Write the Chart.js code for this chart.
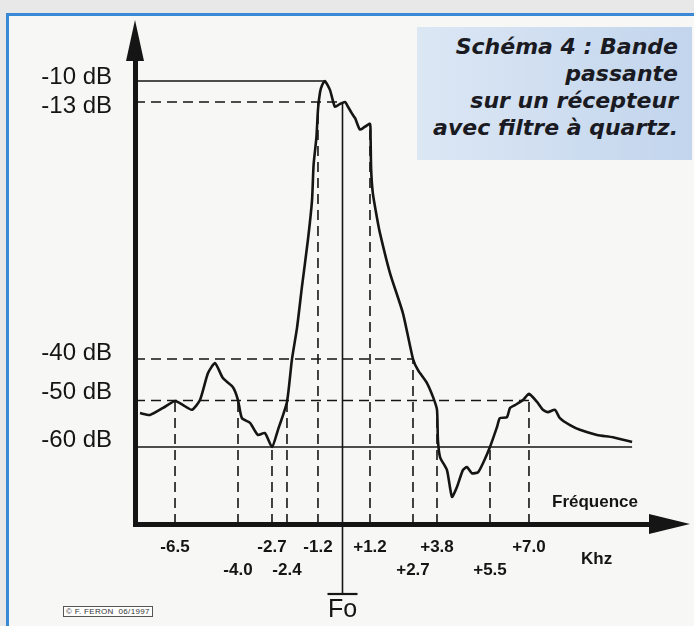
<!DOCTYPE html>
<html>
<head>
<meta charset="utf-8">
<script src="https://cdn.jsdelivr.net/npm/chart.js@4/dist/chart.umd.min.js"></script>
<style>
  body { margin: 0; width: 694px; height: 626px; background: #e8e8e8; position: relative; overflow: hidden; font-family: 'Liberation Sans', Arial, sans-serif; }
  #frame { position: absolute; left: 6px; top: 13px; right: 0; bottom: 0; border-top: 3px solid #3a89d6; border-left: 3px solid #3a89d6; background: #f7f7f5; }
  #filterChart { position: absolute; left: 0; top: 0; }
  .caption { position: absolute; left: 417px; top: 27px; width: 261px; height: 127px; padding: 6px 14px 0 0; box-sizing: content-box;
    background: linear-gradient(to right, #dce7f4, #c2d5ed); text-align: right; color: #1a1a22;
    font: italic bold 22px/27px 'DejaVu Sans', sans-serif; }
  .note { position: absolute; color: #151515; font-weight: bold; font-size: 17px; line-height: 20px; white-space: nowrap; }
  .fo { position: absolute; left: 328px; top: 596px; font-size: 25px; line-height: 25px; color: #151515; }
  .copy { position: absolute; left: 63px; top: 606px; border: 1px solid #555; font-size: 8px; line-height: 9px; padding: 0 2px; letter-spacing: 0.3px; color: #333; background: #fff; white-space: nowrap; }
</style>
</head>
<body>
<div id="frame"></div>
<canvas id="filterChart" width="694" height="626"></canvas>
<div class="caption">Schéma 4 : Bande<br>passante<br>sur un récepteur<br>avec filtre à quartz.</div>
<div class="note" style="left:552px; top:492px;">Fréquence</div>
<div class="note" style="left:581px; top:549px;">Khz</div>
<div class="fo">Fo</div>
<div class="copy">© F. FERON&nbsp;&nbsp;06/1997</div>
<script>
// response of the quartz filter (kHz from Fo, level in dB)
const curveKhz = [-7.9, -7.5, -6.98, -6.5, -6.18, -5.83, -5.51, -5.19, -4.91, -4.6, -4.2, -4.0, -3.85, -3.54, -3.24, -2.97,
  -2.7, -2.58, -2.4, -2.21, -2.01, -1.82, -1.59, -1.43, -1.37, -1.26, -1.2, -1.1, -1.0, -0.86, -0.61, -0.37, -0.12,
  0.11, 0.24, 0.41, 0.55, 0.76, 0.98, 1.2, 1.22, 1.24, 1.3, 1.44, 1.55, 1.9, 2.35, 2.7, 2.93, 3.34, 3.62, 3.8, 3.83,
  3.9, 4.12, 4.28, 4.44, 4.63, 4.76, 4.92, 5.12, 5.28, 5.5, 5.77, 5.88, 6.15, 6.27, 6.46, 6.77, 7.0, 7.31, 7.54, 7.73,
  8.0, 8.19, 8.58, 8.96, 9.62, 10.23, 10.97]
const curveDb = [-52.7, -53.1, -51.6, -50.1, -51.0, -52.0, -49.9, -43.4, -41.0, -44.6, -46.8, -49.9, -53.8, -54.8, -57.4, -57.0,
  -60.0, -56.3, -50.3, -40.2, -36.7, -32.4, -27.5, -23.3, -19.6, -16.7, -13.8, -11.6, -10.6, -10.0, -11.3, -13.5, -13.2,
  -13.0, -13.5, -14.2, -14.7, -15.9, -15.6, -15.3, -16.7, -20.1, -22.6, -25.1, -26.8, -31.0, -35.2, -40.0, -42.7, -45.8, -49.2, -52.0, -58.5,
  -62.0, -64.5, -69.7, -67.8, -64.5, -63.9, -65.1, -64.9, -63.1, -60.0, -55.7, -53.8, -53.6, -51.6, -51.0, -49.9, -48.4, -50.3, -52.0, -52.5,
  -52.0, -53.8, -55.3, -56.3, -57.4, -57.9, -58.9]

// level marks on the dB axis and how far each guide runs to the right
const yTicks = [-10, -13, -40, -50, -60]
const yTickLabels = ['-10 dB', '-13 dB', '-40 dB', '-50 dB', '-60 dB']
const levelEndKhz = [-0.86, 0, 2.7, 7.0, 10.97]
const levelDashed = [false, true, true, true, false]

// frequency marks, their text, label row, and the level where each dashed drop starts
const xTicks = [-6.5, -4.0, -2.7, -2.4, -1.2, 1.2, 2.7, 3.8, 5.5, 7.0]
const xTickLabels = ['-6.5', '-4.0', '-2.7', '-2.4', '-1.2', '+1.2', '+2.7', '+3.8', '+5.5', '+7.0']
const xTickRow = [1, 2, 1, 2, 1, 1, 2, 1, 2, 1]
const markTopDb = [-50.1, -49.9, -60.0, -50.3, -13.0, -15.3, -40.0, -52.0, -60.0, -48.4]

const xMin = -8.1, xMax = 11.66, yMin = -75, yMax = -7

// the drawing is not to scale: each axis is stretched piecewise between its marks
const axisWarp = {
  x: [[-8.1, 0], [-6.5, 0.0777], [-4.0, 0.2], [-2.7, 0.266], [-2.4, 0.2951], [-1.2, 0.3553], [0, 0.4029],
      [1.2, 0.4563], [2.7, 0.5398], [3.8, 0.5864], [5.5, 0.6893], [7.0, 0.765], [11.66, 1]],
  y: [[-75, 0], [-60, 0.1659], [-50, 0.2662], [-40, 0.3556], [-13, 0.9095], [-10, 0.9547], [-7, 1]]
}
const labelNudge = { y: { '-10': -4, '-13': 4, '-40': -6, '-50': -8, '-60': -7 } }

const ink = '#151515'

function piecewise (pairs, v, from, to) {
  let i = 1
  while (i < pairs.length - 1 && v > pairs[i][from]) i++
  const a = pairs[i - 1], b = pairs[i]
  return a[to] + (v - a[from]) * (b[to] - a[to]) / (b[from] - a[from])
}

class WarpScale extends Chart.LinearScale {
  static id = 'warp'
  getPixelForValue (v) {
    if (v === null || v === undefined) return NaN
    return this.getPixelForDecimal(piecewise(axisWarp[this.id], v, 0, 1))
  }
  getValueForPixel (p) {
    return piecewise(axisWarp[this.id], this.getDecimalForPixel(p), 1, 0)
  }
  getPixelForTick (i) {
    const t = this.ticks[i]
    const nudge = (labelNudge[this.id] || {})[t.value] || 0
    return this.getPixelForValue(t.value) + nudge
  }
}
Chart.register(WarpScale)

const datasets = []
datasets.push({
  data: curveKhz.map((x, i) => ({ x: x, y: curveDb[i] })),
  borderColor: ink, borderWidth: 2.6, tension: 0.2, pointRadius: 0, order: 0
})
yTicks.forEach((lvl, i) => {
  datasets.push({
    data: [{ x: xMin, y: lvl }, { x: levelEndKhz[i], y: lvl }],
    borderColor: ink, borderWidth: 1.6, borderDash: levelDashed[i] ? [10, 6] : [],
    pointRadius: 0, order: 1
  })
})
xTicks.forEach((f, i) => {
  datasets.push({
    data: [{ x: f, y: yMin }, { x: f, y: markTopDb[i] }],
    borderColor: ink, borderWidth: 1.6, borderDash: [10, 6], pointRadius: 0, order: 1
  })
})
// Fo centre line
datasets.push({
  data: [{ x: 0, y: -13 }, { x: 0, y: yMin }],
  borderColor: ink, borderWidth: 1.6, pointRadius: 0, order: 1
})

const arrows = {
  id: 'arrows',
  afterDraw (chart) {
    const { ctx, chartArea: a } = chart
    const fx = chart.scales.x.getPixelForValue(0)
    ctx.save()
    ctx.fillStyle = ink
    ctx.beginPath()
    ctx.moveTo(a.left, a.top - 40); ctx.lineTo(a.left - 9, a.top + 1); ctx.lineTo(a.left + 9, a.top + 1)
    ctx.fill()
    ctx.beginPath()
    ctx.moveTo(a.right + 40, a.bottom); ctx.lineTo(a.right - 1, a.bottom - 10); ctx.lineTo(a.right - 1, a.bottom + 10)
    ctx.fill()
    // Fo stem continues under the axis down to the label
    ctx.strokeStyle = ink
    ctx.lineWidth = 1.6
    ctx.beginPath(); ctx.moveTo(fx, a.bottom); ctx.lineTo(fx, a.bottom + 70); ctx.stroke()
    ctx.lineWidth = 2.2
    ctx.beginPath(); ctx.moveTo(fx - 15, a.bottom + 70); ctx.lineTo(fx + 15, a.bottom + 70); ctx.stroke()
    ctx.restore()
  }
}

Chart.defaults.font.family = "'Liberation Sans', Arial, sans-serif"
Chart.defaults.color = ink

new Chart(document.getElementById('filterChart'), {
  type: 'line',
  data: { datasets: datasets },
  plugins: [arrows],
  options: {
    responsive: false,
    animation: false,
    events: [],
    layout: { padding: { top: 60, right: 44, bottom: 0, left: 0 } },
    plugins: { legend: { display: false }, tooltip: { enabled: false }, title: { display: false } },
    scales: {
      x: {
        type: 'warp', min: xMin, max: xMax,
        afterFit: (s) => { s.height = 102 },
        afterBuildTicks: (s) => { s.ticks = xTicks.map(v => ({ value: v })) },
        grid: { display: true, drawOnChartArea: false, drawTicks: false, color: 'transparent' },
        border: { display: true, width: 5, color: ink },
        ticks: {
          autoSkip: false, maxRotation: 0, minRotation: 0, padding: 12,
          font: { size: 17, weight: 'bold', lineHeight: '23px' },
          callback: (v) => {
            const i = xTicks.indexOf(v)
            return xTickRow[i] === 2 ? ['', xTickLabels[i]] : xTickLabels[i]
          }
        }
      },
      y: {
        type: 'warp', min: yMin, max: yMax,
        afterFit: (s) => { s.width = 135 },
        afterBuildTicks: (s) => { s.ticks = yTicks.map(v => ({ value: v })) },
        grid: { display: true, drawOnChartArea: false, drawTicks: false, color: 'transparent' },
        border: { display: true, width: 5, color: ink },
        ticks: {
          autoSkip: false, padding: 23,
          font: { size: 24 },
          callback: (v) => yTickLabels[yTicks.indexOf(v)]
        }
      }
    }
  }
})
</script>
</body>
</html>
